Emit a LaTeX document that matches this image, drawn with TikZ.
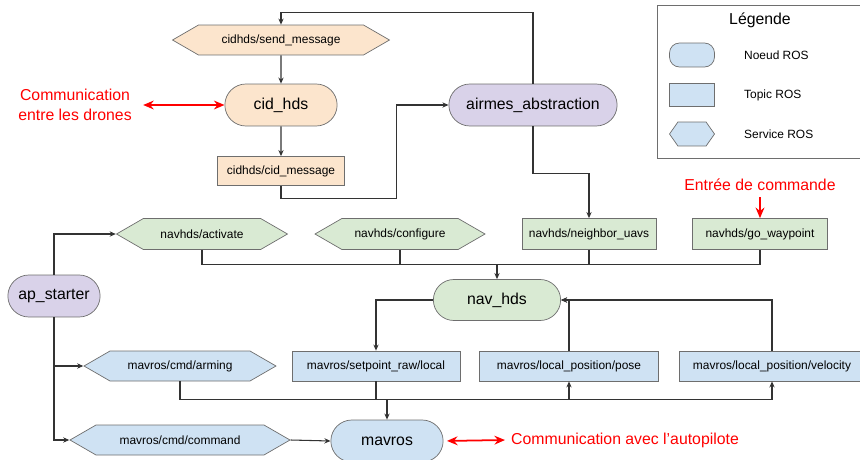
\documentclass[tikz,border=0pt]{standalone}
\usepackage{fontspec}
\setmainfont{Liberation Sans}
\usetikzlibrary{arrows.meta,positioning,calc,shapes.misc,shapes.symbols}

\definecolor{orangeclair}{HTML}{FCE5CD}
\definecolor{violetclair}{HTML}{D9D2E9}
\definecolor{vertclair}{HTML}{D9EAD3}
\definecolor{bleuclair}{HTML}{CFE2F3}
\definecolor{bord}{HTML}{6E6E6E}
\definecolor{trait}{HTML}{333333}

\begin{document}
\begin{tikzpicture}[x=0.02cm, y=-0.02cm,
  every node/.style={align=center, font=\fontsize{6.8}{8}\selectfont},
  noeud/.style={draw=bord, rounded rectangle, minimum height=0.84cm, font=\fontsize{9}{11}\selectfont},
  topic/.style={draw=bord, rectangle, minimum height=0.6cm},
  service/.style={draw=bord, signal, signal to=east and west, signal pointer angle=60, minimum height=0.6cm},
  lien/.style={draw=trait, line width=0.6pt},
  fleche/.style={lien, -{Stealth[length=3.5pt,width=3pt]}},
  rouge/.style={draw=red, line width=1pt, {Stealth[length=6pt,width=5pt]}-{Stealth[length=6pt,width=5pt]}},
  texterouge/.style={text=red, font=\fontsize{9}{11}\selectfont}]
\useasboundingbox (0,0) rectangle (860,460);
\clip (0,0) rectangle (860,460);

% partie cid_hds
\node[service, fill=orangeclair, minimum width=4.34cm] (envoi) at (281,40) {cidhds/send\_message};
\node[noeud, fill=orangeclair, minimum width=2.48cm] (cid) at (281,105) {cid\_hds};
\node[topic, fill=orangeclair, minimum width=2.54cm, minimum height=0.58cm] (cidmsg) at (281,171) {cidhds/cid\_message};
\node[noeud, fill=violetclair, minimum width=3.6cm] (airmes) at (533,105) {airmes\_abstraction};

% partie nav_hds
\node[service, fill=vertclair, minimum width=3.42cm, minimum height=0.62cm] (activer) at (202,234) {navhds/activate};
\node[service, fill=vertclair, minimum width=3.4cm, minimum height=0.62cm] (config) at (400,234) {navhds/configure};
\node[topic, fill=vertclair, minimum width=2.68cm, minimum height=0.62cm] (voisins) at (589,234) {navhds/neighbor\_uavs};
\node[topic, fill=vertclair, minimum width=2.7cm, minimum height=0.62cm] (waypoint) at (760,234) {navhds/go\_waypoint};
\node[noeud, fill=vertclair, minimum width=2.78cm, minimum height=0.82cm] (nav) at (497,300) {nav\_hds};
\node[noeud, fill=violetclair, minimum width=2.08cm] (apstart) at (54,296) {ap\_starter};

% partie mavros
\node[service, fill=bleuclair, minimum width=3.84cm] (arming) at (180,366) {mavros/cmd/arming};
\node[service, fill=bleuclair, minimum width=4.4cm] (commande) at (180,440) {mavros/cmd/command};
\node[topic, fill=bleuclair, minimum width=3.36cm] (consigne) at (376,366) {mavros/setpoint\_raw/local};
\node[topic, fill=bleuclair, minimum width=3.58cm] (pose) at (569,366) {mavros/local\_position/pose};
\node[topic, fill=bleuclair, minimum width=3.72cm] (vitesse) at (772,366) {mavros/local\_position/velocity};
\node[noeud, fill=bleuclair, minimum width=2.48cm] (mavros) at (387,441) {mavros};

% legende
\node[draw=bord, minimum width=4.08cm, minimum height=3.06cm] (legende) at (759,81.5) {};
\node[font=\fontsize{9}{11}\selectfont] (titreleg) at (760,20) {Légende};
\node[draw=bord, fill=bleuclair, rounded corners=0.2cm, minimum width=0.9cm, minimum height=0.48cm] (legnoeud) at (692,55) {};
\node[topic, fill=bleuclair, minimum width=0.9cm, minimum height=0.46cm] (legtopic) at (692,95) {};
\node[service, fill=bleuclair, minimum width=0.9cm, minimum height=0.48cm, signal pointer angle=110] (legservice) at (692,134) {};
\node[anchor=west] (txtnoeud) at (738,55) {Noeud ROS};
\node[anchor=west] (txttopic) at (738,95) {Topic ROS};
\node[anchor=west] (txtservice) at (738,134) {Service ROS};

% annotations
\node[texterouge] (drones) at (75,105) {Communication\\entre les drones};
\node[texterouge, anchor=west] (autopilote) at (505,440) {Communication avec l’autopilote};
\node[texterouge] (entree) at (760,185) {Entrée de commande};

\coordinate (busnav) at ($(nav.north)+(0,-15)$);
\coordinate (busmav) at ($(mavros.north)+(0,-20)$);

\draw[fleche] (envoi) -- (cid);
\draw[fleche] (cid) -- (cidmsg);
\draw[fleche] (cidmsg.south) -- ++(0,13) -| ($(cidmsg.east)!.5!(airmes.west)$) |- (airmes.west);
\draw[fleche] (airmes.north) -- ++(0,-71) -| (envoi.north);
\draw[fleche] (airmes.south) -- ++(0,47) -| (voisins.north);

\draw[fleche] (apstart.north) |- (activer.west);
\draw[fleche] (apstart.south) |- (arming.west);
\draw[fleche] (apstart.south) |- (commande.west);

\draw[lien] (activer.south) |- (busnav);
\draw[lien] (config.south) |- (busnav);
\draw[lien] (voisins.south) |- (busnav);
\draw[lien] (waypoint.south) |- (busnav);
\draw[fleche] (busnav) -- (nav.north);

\draw[fleche] (nav.west) -| (consigne.north);
\draw[fleche] (pose.north) |- (nav.east);
\draw[fleche] (vitesse.north) |- (nav.east);

\draw[lien] (arming.south) |- (busmav);
\draw[lien] (consigne.south) |- (busmav);
\draw[fleche] (busmav) -| (pose.south);
\draw[fleche] (busmav) -| (vitesse.south);
\draw[fleche, line width=1.2pt] (busmav) -- (mavros.north);
\draw[fleche] (commande.east) -- (mavros.west);

\draw[rouge, shorten <=3pt] (drones.east) -- (cid.west);
\draw[rouge, shorten <=2pt] (mavros.east) -- (autopilote.west);
\draw[draw=red, line width=1pt, -{Stealth[length=6pt,width=5pt]}] (entree.south) -- (waypoint.north);
\end{tikzpicture}
\end{document}
